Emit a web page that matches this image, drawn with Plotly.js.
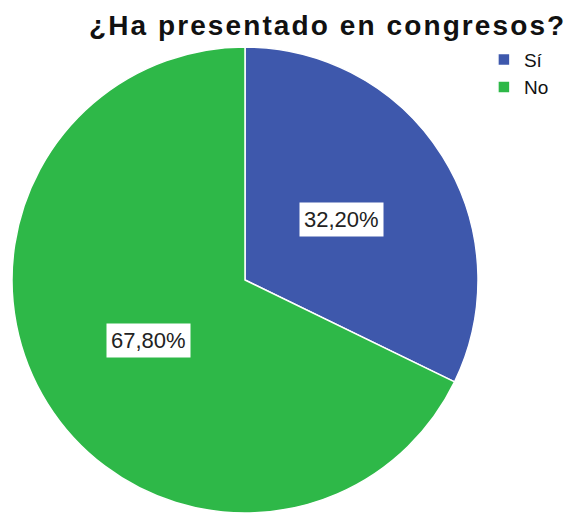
<!DOCTYPE html>
<html>
<head>
<meta charset="utf-8">
<script src="https://cdn.plot.ly/plotly-3.0.1.min.js"></script>
<style>
html,body{margin:0;padding:0;background:#fff;}
#chart{width:572px;height:513px;}
#chart .gtitle{letter-spacing:2.1px;}
</style>
</head>
<body>
<div id="chart"></div>
<script>
const categories = ["Sí", "No"];
const percentages = [32.20, 67.80];
const colors = ["#3E58AC", "#2EB848"];
const chartTitle = "¿Ha presentado en congresos?";

const fmt = v => v.toFixed(2).replace('.', ',') + '%';

// label annotations computed from data (mid-angle of each slice, clockwise from top)
const total = percentages.reduce((a, b) => a + b, 0);
const annotations = [];
let cum = 0;
const cx = 0.5, cy = 0.5, rf = 0.245;
percentages.forEach((v, i) => {
  const mid = (cum + v / 2) / total * 2 * Math.PI;
  cum += v;
  annotations.push({
    x: cx + rf * Math.sin(mid), y: cy + rf * Math.cos(mid),
    xref: 'paper', yref: 'paper', xanchor: 'center', yanchor: 'middle',
    showarrow: false,
    text: fmt(v), bgcolor: '#ffffff', borderpad: 4,
    font: {family: 'Liberation Sans, Arial, sans-serif', size: 22, color: '#222'}
  });
});

const data = [{
  type: 'pie',
  labels: categories,
  values: percentages,
  sort: false,
  direction: 'clockwise',
  rotation: 0,
  textinfo: 'none',
  hoverinfo: 'label+percent',
  marker: {colors: colors, line: {color: '#ffffff', width: 1.5}},
  domain: {x: [0, 1], y: [0, 1]}
}];

const layout = {
  width: 572, height: 513,
  margin: {l: 12, r: 94, t: 47, b: 0},
  paper_bgcolor: '#ffffff',
  title: {
    text: '<b>' + chartTitle + '</b>',
    xref: 'container', yref: 'container',
    x: 0.99, xanchor: 'right', y: 0.95, yanchor: 'middle',
    font: {family: 'Liberation Sans, Arial, sans-serif', size: 28, color: '#111'}
  },
  legend: {
    xref: 'container', yref: 'container',
    x: 0.846, xanchor: 'left', y: 0.921, yanchor: 'top',
    font: {family: 'Liberation Sans, Arial, sans-serif', size: 19, color: '#111'},
    itemwidth: 30, tracegroupgap: 0
  },
  annotations: annotations,
  showlegend: true
};

Plotly.newPlot('chart', data, layout, {displayModeBar: false, staticPlot: true});
</script>
</body>
</html>
